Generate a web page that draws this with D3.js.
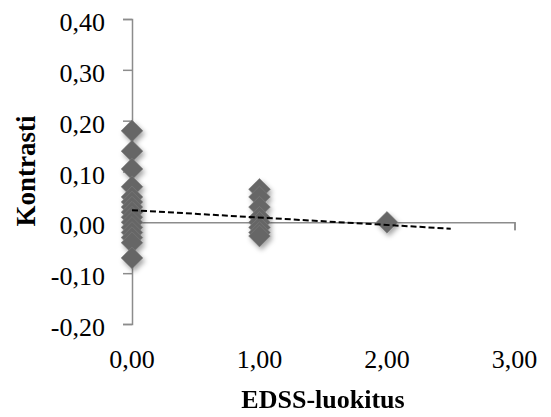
<!DOCTYPE html>
<html><head><meta charset="utf-8">
<script src="https://cdn.jsdelivr.net/npm/d3@7"></script>
<style>body{margin:0;background:#fff}svg{display:block}</style>
</head><body>
<script>
const xValues0 = [0,0,0,0,0,0,0,0,0,0,0,0,0,0,0];
const yValues0 = [0.18,0.14,0.105,0.07,0.05,0.04,0.03,0.02,0.01,0.00,-0.01,-0.02,-0.03,-0.04,-0.07];
const xValues1 = [1,1,1,1,1,1,1,1];
const yValues1 = [0.065,0.05,0.03,0.01,0.00,-0.01,-0.02,-0.027];
const xValues2 = [2];
const yValues2 = [0.00];
const trendX = [0, 2.5];
const trendY = [0.024, -0.0125];
const xTicks = [0,1,2,3];
const yTicks = [-0.2,-0.1,0,0.1,0.2,0.3,0.4];
const xTitle = "EDSS-luokitus";
const yTitle = "Kontrasti";

const W = 551, H = 417;
const svg = d3.select("body").append("svg").attr("width", W).attr("height", H);
const font = "'Liberation Serif', 'DejaVu Serif', serif";
const x = d3.scaleLinear().domain([0,3]).range([132,514.5]);
const y = d3.scaleLinear().domain([-0.2,0.4]).range([324,19]);
const fmt = d => d3.format(".2f")(d).replace(".", ",").replace("−","-");

const defs = svg.append("defs");
const f = defs.append("filter").attr("id","sh").attr("x","-50%").attr("y","-50%").attr("width","200%").attr("height","200%");
f.append("feDropShadow").attr("dx",2).attr("dy",3).attr("stdDeviation",2.5).attr("flood-color","#000").attr("flood-opacity",0.35);

const axisColor = "#8c8c8c";
// y axis
const yAxis = svg.append("g").attr("transform",`translate(${x(0)},0)`)
  .call(d3.axisLeft(y).tickValues(yTicks).tickSize(9).tickFormat(fmt));
yAxis.select(".domain").attr("stroke",axisColor).attr("stroke-width",1.5);
yAxis.selectAll(".tick line").attr("stroke",axisColor).attr("stroke-width",1.5);
yAxis.selectAll(".tick text").attr("font-family",font).attr("font-size",26).attr("fill","#000")
  .attr("x",-27).attr("dy",11.5);

// x axis at y=0
const xAxis = svg.append("g").attr("transform",`translate(0,${y(0)})`)
  .call(d3.axisBottom(x).tickValues(xTicks).tickSize(8).tickFormat(""));
xAxis.select(".domain").attr("stroke",axisColor).attr("stroke-width",1.5);
xAxis.selectAll(".tick line").attr("stroke",axisColor).attr("stroke-width",1.5);

// x tick labels at bottom
svg.append("g").selectAll("text").data(xTicks).join("text")
  .attr("x", d => x(d)).attr("y", 368).attr("text-anchor","middle")
  .attr("font-family",font).attr("font-size",26).text(fmt);

// points
const pts = [];
xValues0.forEach((v,i)=>pts.push([v,yValues0[i]]));
xValues1.forEach((v,i)=>pts.push([v,yValues1[i]]));
xValues2.forEach((v,i)=>pts.push([v,yValues2[i]]));
const sym = d3.symbol().type(d3.symbolDiamond2).size(300);
svg.append("g").attr("filter","url(#sh)").selectAll("path").data(pts).join("path")
  .attr("d", sym).attr("transform", d => `translate(${x(d[0])},${y(d[1])})`)
  .attr("fill","#666").attr("stroke","#7c7c7c").attr("stroke-width",0.6);

// trendline
svg.append("path").datum(trendX.map((v,i)=>[v,trendY[i]]))
  .attr("d", d3.line().x(d=>x(d[0])).y(d=>y(d[1])))
  .attr("stroke","#000").attr("stroke-width",2).attr("stroke-dasharray","6,3").attr("fill","none");

// titles
svg.append("text").attr("x",323).attr("y",408).attr("text-anchor","middle")
  .attr("font-family",font).attr("font-size",26).attr("font-weight","bold").text(xTitle);
svg.append("text").attr("transform","translate(35,171) rotate(-90)").attr("text-anchor","middle")
  .attr("font-family",font).attr("font-size",27).attr("font-weight","bold").text(yTitle);
</script>
</body></html>
